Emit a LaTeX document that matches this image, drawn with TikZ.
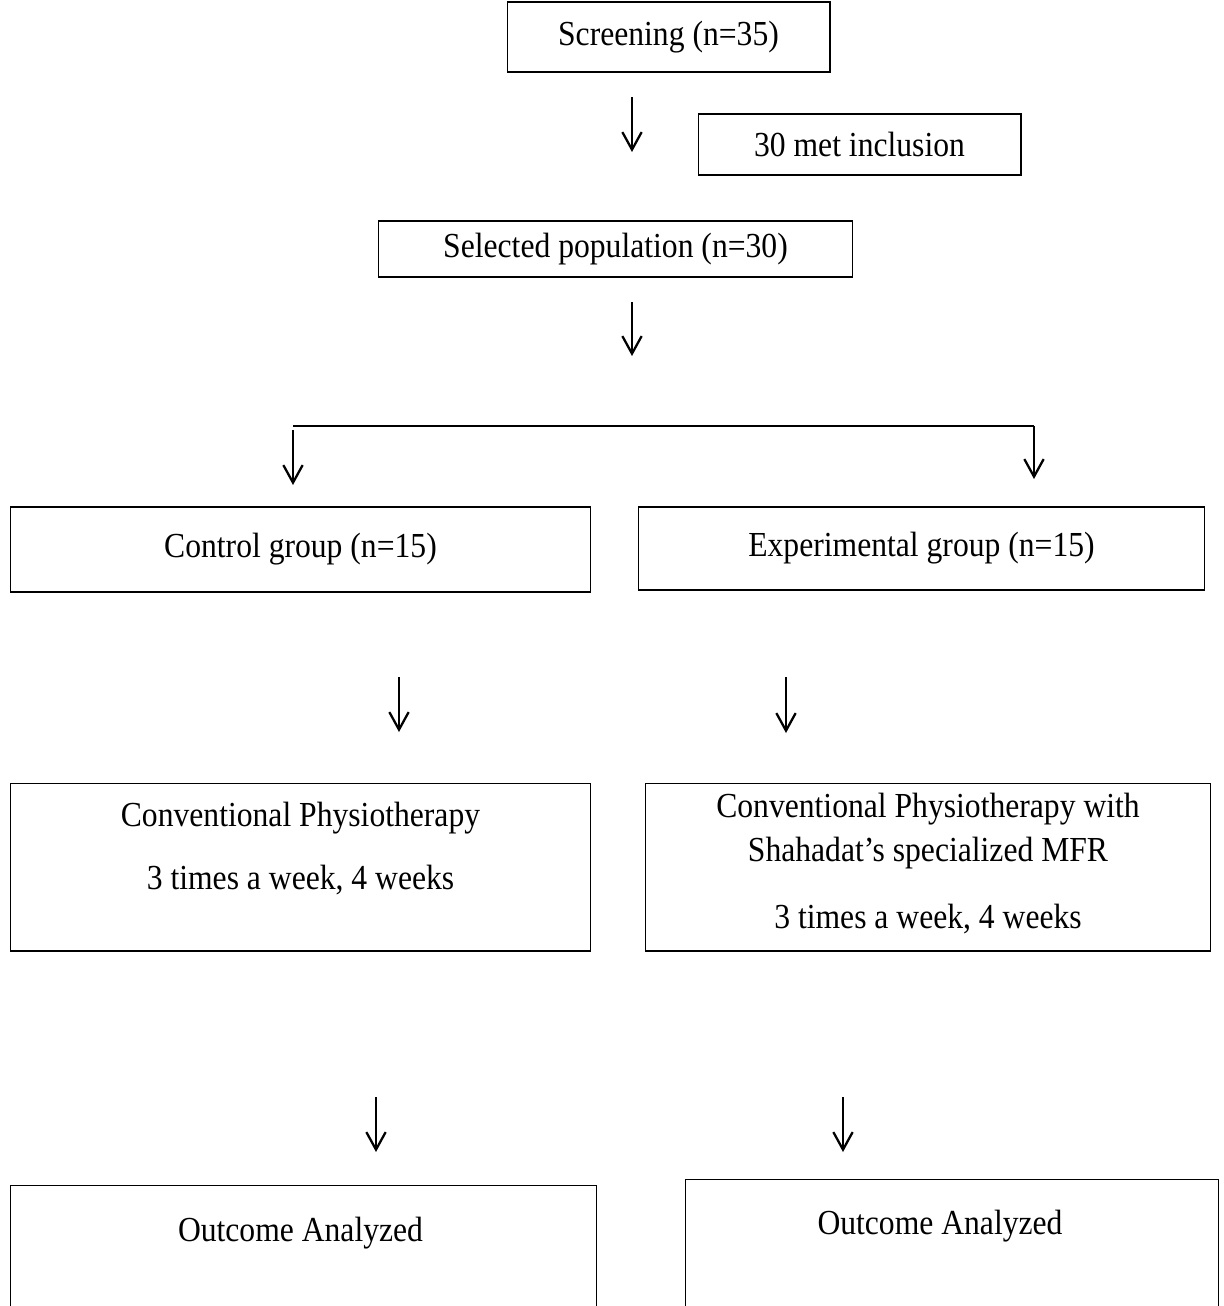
\documentclass[tikz,border=0pt]{standalone}
\usepackage{fontspec}
\setmainfont{Liberation Serif}[FakeStretch=0.9]
\usetikzlibrary{arrows.meta,calc}

\tikzset{
  box/.style={draw, line width=0.6pt, inner sep=0pt, font=\fontsize{20}{24}\selectfont},
  txt/.style={inner sep=0pt, font=\fontsize{20}{24}\selectfont},
  down/.style={line width=1.3pt, -{Straight Barb[length=10pt,width=11pt,line width=1.3pt]}}
}

\begin{document}
\begin{tikzpicture}[x=0.02cm,y=-0.02cm]

\clip (0,0) rectangle (1224,1306);
\useasboundingbox (0,0) rectangle (1224,1306);

% top part
\node[box, minimum width=6.46cm, minimum height=1.40cm] (screen) at (668.5,37) {Screening (n=35)};
\node[box, minimum width=6.46cm, minimum height=1.22cm] (incl) at (859.5,144.5) {30 met inclusion};
\node[box, minimum width=9.50cm, minimum height=1.12cm] (select) at (615.5,249) {Selected population (n=30)};

\coordinate (a1) at (632,97);  \coordinate (b1) at (632,152);
\coordinate (a2) at (632,302); \coordinate (b2) at (632,356);
\draw[down] (a1) -- (b1);
\draw[down] (a2) -- (b2);

% split
\coordinate (sl) at (293,426); \coordinate (sr) at (1034,426);
\coordinate (sl2) at (293,485); \coordinate (sr2) at (1034,479);
\draw[line width=1.1pt] (sl) -- (sr);
\draw[down] ($(sl)+(0,4)$) -- (sl2);
\draw[down] (sr) -- (sr2);

% groups
\node[box, minimum width=11.62cm, minimum height=1.70cm] (control) at (300.5,549.5) {Control group (n=15)};
\node[box, minimum width=11.34cm, minimum height=1.66cm] (exper) at (921.5,548.5) {Experimental group (n=15)};

\coordinate (a3) at (399,677); \coordinate (b3) at (399,732);
\coordinate (a4) at (786,677); \coordinate (b4) at (786,733);
\draw[down] (a3) -- (b3);
\draw[down] (a4) -- (b4);

% treatment
\node[box, minimum width=11.62cm, minimum height=3.36cm] (convL) at (300.5,867) {};
\node[txt] (convL1) at (300.5,818) {Conventional Physiotherapy};
\node[txt] (convL2) at (300.5,880) {3 times a week, 4 weeks};

\node[box, minimum width=11.32cm, minimum height=3.36cm] (convR) at (928,867) {};
\node[txt] (convR1) at (928,809) {Conventional Physiotherapy with};
\node[txt] (convR2) at (928,853) {Shahadat’s specialized MFR};
\node[txt] (convR3) at (928,919) {3 times a week, 4 weeks};

\coordinate (a5) at (376,1097); \coordinate (b5) at (376,1152);
\coordinate (a6) at (843,1097); \coordinate (b6) at (843,1152);
\draw[down] (a5) -- (b5);
\draw[down] (a6) -- (b6);

% outcome
\node[box, minimum width=11.74cm, minimum height=3.00cm] (outL) at (303.5,1260) {};
\node[txt] (outL1) at (300.5,1233) {Outcome Analyzed};
\node[box, minimum width=10.68cm, minimum height=3.00cm] (outR) at (952,1254) {};
\node[txt] (outR1) at (940,1226) {Outcome Analyzed};

\end{tikzpicture}
\end{document}
